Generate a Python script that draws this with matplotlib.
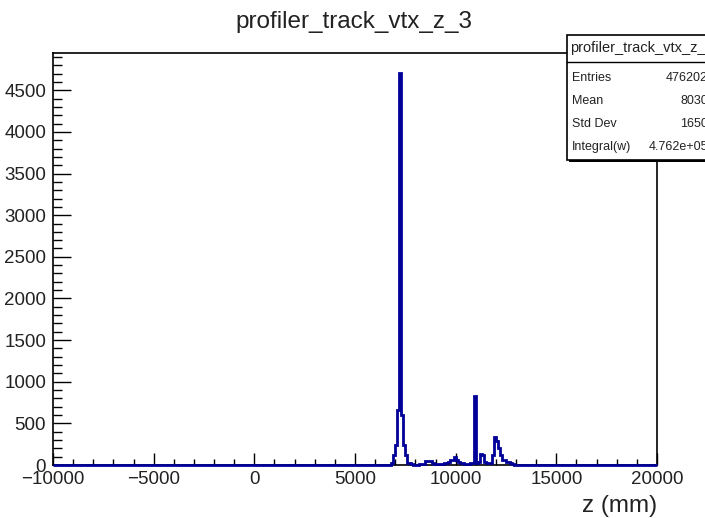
import numpy as np
import matplotlib
matplotlib.use("Agg")
import matplotlib.pyplot as plt
from matplotlib.patches import Rectangle
from matplotlib.ticker import MultipleLocator

plt.rcParams['font.family'] = ['Liberation Sans', 'DejaVu Sans']

# Histogram binning (mm)
x_min, x_max, bin_width = -10000, 20000, 100
# First bin with entries, and bin contents from there on (bins of 100 mm)
first_filled = 6700
filled_counts = [
    5, 25, 120, 240, 660, 4712, 600, 240, 120, 30,     # 6700 - 7600
    25, 15, 5, 5, 5, 10, 10, 15, 45, 50,               # 7700 - 8600
    45, 20, 15, 10, 15, 10, 15, 20, 25, 35,            # 8700 - 9600
    55, 60, 100, 60, 40, 30, 20, 15, 10, 15,           # 9700 - 10600
    20, 25, 830, 20, 35, 130, 125, 40, 25, 20,         # 10700 - 11600
    30, 120, 340, 290, 200, 120, 65, 60, 40, 35,       # 11700 - 12600
    20, 10, 5,                                         # 12700 - 12900
]

title = "profiler_track_vtx_z_3"
x_label = "z (mm)"
stats_name = "profiler_track_vtx_z_3"
stats_labels = ["Entries", "Mean", "Std Dev", "Integral(w)"]
stats_values = ["476202", "8030", "1650", "4.762e+05"]

edges = np.arange(x_min, x_max + bin_width, bin_width)
counts = np.zeros(len(edges) - 1)
i0 = (first_filled - x_min) // bin_width
counts[i0:i0 + len(filled_counts)] = filled_counts

W, H = 705, 518
fig = plt.figure(figsize=(W / 100, H / 100), dpi=100)
fig.patch.set_facecolor("white")

def fx(px):
    return px / W

def fy(py):
    return 1 - py / H

ax = fig.add_axes([fx(53), fy(465), fx(657) - fx(53), fy(53) - fy(465)])
ax.stairs(counts, edges, color="#000099", lw=2.0, baseline=0, clip_on=False, zorder=3)

ax.set_xlim(x_min, x_max)
ax.set_ylim(0, 1.05 * max(filled_counts))

for s in ax.spines.values():
    s.set_linewidth(1.2)
    s.set_color("black")

ax.xaxis.set_major_locator(MultipleLocator(5000))
ax.xaxis.set_minor_locator(MultipleLocator(1000))
ax.yaxis.set_major_locator(MultipleLocator(500))
ax.yaxis.set_minor_locator(MultipleLocator(100))

ax.tick_params(axis="x", which="major", direction="in", length=8.6, width=1.0,
               labelsize=13.5, pad=4, top=False, colors="black")
ax.tick_params(axis="x", which="minor", direction="in", length=4.3, width=1.0, top=False)
ax.tick_params(axis="y", which="major", direction="in", length=13, width=1.0,
               labelsize=13.5, pad=5, right=False, colors="black")
ax.tick_params(axis="y", which="minor", direction="in", length=6.5, width=1.0, right=False)
for lab in ax.get_xticklabels() + ax.get_yticklabels():
    lab.set_color("#222222")

fig.text(fx(354), fy(22), title, ha="center", va="center", fontsize=17.5, color="#222222")
fig.text(fx(657), fy(506), x_label, ha="right", va="center", fontsize=17.5, color="#222222")

# Statistics box
bx0, by0, bx1, by1 = 567, 35, 710, 160
shadow = Rectangle((fx(bx0 + 2), fy(by1 + 2)), fx(bx1) - fx(bx0), fy(by0) - fy(by1),
                   transform=fig.transFigure, facecolor="black", edgecolor="none",
                   zorder=9)
fig.add_artist(shadow)
box = Rectangle((fx(bx0), fy(by1)), fx(bx1) - fx(bx0), fy(by0) - fy(by1),
                transform=fig.transFigure, facecolor="white", edgecolor="black",
                lw=1.2, zorder=10)
fig.add_artist(box)
fig.add_artist(plt.Line2D([fx(bx0), fx(bx1)], [fy(62), fy(62)],
                          transform=fig.transFigure, color="black", lw=1.0, zorder=11))
fig.text(fx((bx0 + bx1) / 2 + 3), fy(48), stats_name, ha="center", va="center",
         fontsize=10.5, color="#222222", zorder=12)
rows_y = [78, 101, 124, 147]
for ry, lab, val in zip(rows_y, stats_labels, stats_values):
    fig.text(fx(572), fy(ry), lab, ha="left", va="center", fontsize=9,
             color="#222222", zorder=12)
    fig.text(fx(708), fy(ry), val, ha="right", va="center", fontsize=9,
             color="#222222", zorder=12)

fig.savefig("out.png", dpi=100)
